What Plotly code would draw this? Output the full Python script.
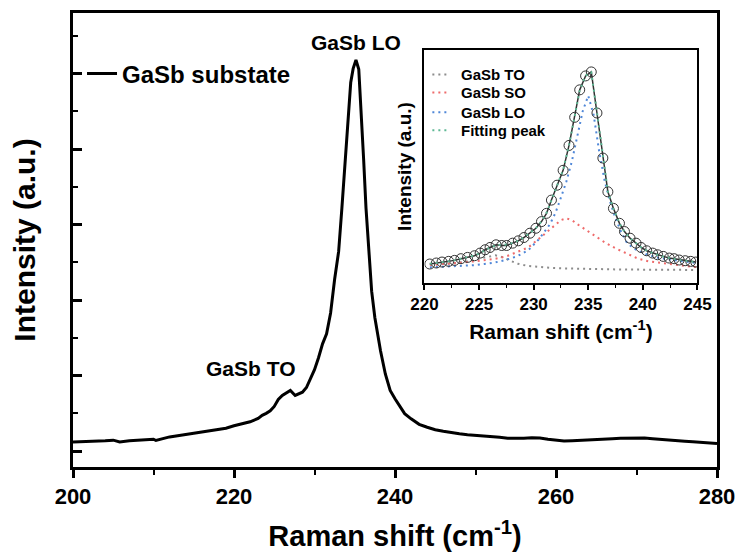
import plotly.graph_objects as go

# ---------------- main spectrum (GaSb substrate) ----------------
main_x = [200, 201, 202, 203, 204, 205, 205.8, 207, 208, 209, 210, 210.3, 211, 212, 213, 214, 215, 216, 217, 218,
          218.5, 219, 220, 221, 222, 223, 223.5, 224, 224.5, 225, 225.5, 226, 226.4, 227, 227.6, 228, 228.5, 229,
          229.5, 230, 230.5, 231, 231.5, 232, 232.5, 233, 233.4, 233.8, 234.2, 234.5, 234.8, 235.15, 235.5, 235.8,
          236.1, 236.4, 236.8, 237.1, 237.5, 238.2, 238.8, 239.4, 240, 240.5, 241.2, 242, 242.5, 243, 244, 245,
          246, 247, 248, 249, 250, 251, 252, 253, 254, 255, 256, 257, 258, 259, 260, 261, 262, 263, 264, 265, 266,
          267, 268, 269, 270, 271, 272, 273, 274, 275, 276, 277, 278, 279, 280]
main_y = [122, 125, 132, 128, 138, 145, 122, 138, 145, 151, 158, 141, 164, 188, 204, 217, 237, 254, 270, 283,
          286, 303, 336, 362, 388, 434, 474, 500, 533, 592, 684, 737, 763, 803, 737, 757, 780, 842,
          961, 1079, 1237, 1421, 1553, 1829, 2276, 2645, 3215, 3872, 4530, 4882, 5066, 5180, 5057, 4530,
          3872, 3215, 2579, 2118, 1767, 1329, 1022, 803, 693, 605, 496, 428, 386, 355, 316, 283,
          263, 243, 230, 217, 211, 200, 195, 184, 171, 167, 171, 178, 175, 158, 145, 134, 138, 142, 145, 151, 158,
          164, 171, 174, 175, 174, 164, 154, 147, 138, 132, 125, 118, 109, 101]

# ---------------- inset: measured points and fit ----------------
inset_x = [220.49, 221.09, 221.61, 222.22, 222.76, 223.34, 223.95, 224.59, 225.10, 225.56, 226.01, 226.56,
           227.08, 227.53, 228.08, 228.60, 229.11, 229.66, 230.21, 230.72, 231.18, 231.63, 232.15, 232.70,
           233.24, 233.76, 234.22, 234.76, 235.28, 235.80, 236.34, 236.80, 237.31, 237.86, 238.32, 238.83,
           239.38, 239.84, 240.35, 240.90, 241.35, 241.87, 242.42, 242.87, 243.33, 243.88, 244.39, 244.85]
inset_y = [350, 375, 399, 416, 440, 482, 514, 556, 621, 704, 761, 827,
           810, 810, 868, 926, 1008, 1115, 1238, 1403, 1608, 1937, 2307, 2677,
           3294, 3993, 4675, 5021, 5120, 4100, 2981, 2143, 1731, 1361, 1156, 991,
           868, 761, 679, 621, 580, 539, 498, 482, 449, 432, 416, 399]
fit_y = [355, 372, 393, 418, 445, 480, 520, 565, 620, 690, 760, 815,
         830, 835, 870, 930, 1010, 1115, 1240, 1410, 1620, 1930, 2310, 2690,
         3300, 3990, 4660, 5030, 5110, 4120, 2990, 2150, 1720, 1360, 1150, 995,
         865, 765, 685, 620, 575, 535, 500, 475, 450, 430, 412, 398]

to_x = [220.5, 221.5, 222.5, 223.5, 224.5, 225.5, 226.0, 226.5, 227.0, 227.5, 228.5, 229.5, 230.5, 231.5,
        232.5, 233.5, 234.5, 235.5, 236.5, 237.5, 238.5, 239.5, 240.5, 241.5, 242.5, 243.5, 244.5, 245]
to_y = [330, 345, 365, 395, 440, 510, 545, 565, 535, 470, 360, 300, 272, 255,
        243, 234, 228, 223, 219, 216, 213, 211, 209, 207, 205, 204, 203, 202]

so_x = [220.5, 221.5, 222.5, 223.5, 224.5, 225.5, 226.5, 227.5, 228.5, 229.5, 230.5, 231.5, 232.0, 232.5,
        233.0, 233.5, 234.0, 234.5, 235.5, 236.5, 237.5, 238.5, 239.5, 240.5, 241.5, 242.5, 243.5, 244.5, 245]
so_y = [326, 340, 360, 385, 415, 445, 480, 539, 640, 760, 980, 1200, 1330, 1440,
        1485, 1440, 1340, 1250, 1080, 890, 740, 610, 490, 420, 380, 345, 315, 285, 275]

lo_x = [220.5, 221.5, 222.5, 223.5, 224.5, 225.5, 226.5, 227.5, 228.5, 229.5, 230.5, 231.5, 232.0, 232.5,
        233.0, 233.5, 234.0, 234.5, 235.0, 235.5, 236.0, 236.5, 237.0, 237.5, 238.0, 238.5, 239.0, 239.5,
        240.5, 241.5, 242.5, 243.5, 244.5, 245]
lo_y = [268, 278, 287, 300, 320, 350, 390, 455, 545, 690, 970, 1340, 1620, 2000,
        2400, 2900, 3550, 4150, 4528, 4050, 3150, 2420, 1900, 1480, 1160, 900, 770, 690,
        570, 500, 460, 420, 385, 370]

main_xticks = [200, 220, 240, 260, 280]
inset_xticks = [220, 225, 230, 235, 240, 245]

inset_names = ["GaSb TO", "GaSb SO", "GaSb LO", "Fitting peak"]
inset_colors = ["#8c8c8c", "#ee6b6b", "#4f87d8", "#5fb895"]

FONT = "Liberation Sans, Arial, sans-serif"
DOTS = "2px,4px"

fig = go.Figure()

fig.add_trace(go.Scatter(x=main_x, y=main_y, mode="lines", name="<b>GaSb substate</b>",
                         line=dict(color="black", width=3)))

comp = [(to_x, to_y), (so_x, so_y), (lo_x, lo_y)]
for (cx, cy), nm, col in zip(comp, inset_names[:3], inset_colors[:3]):
    fig.add_trace(go.Scatter(x=cx, y=cy, mode="lines", name=nm, xaxis="x2", yaxis="y2",
                             line=dict(color=col, width=2, dash=DOTS), showlegend=False))
fig.add_trace(go.Scatter(x=inset_x, y=inset_y, mode="lines+markers", name="data", xaxis="x2", yaxis="y2",
                         line=dict(color="#333333", width=1.5),
                         marker=dict(symbol="circle-open", size=10, color="#333333", line=dict(width=1)),
                         showlegend=False))
fig.add_trace(go.Scatter(x=inset_x, y=fit_y, mode="lines", name=inset_names[3], xaxis="x2", yaxis="y2",
                         line=dict(color=inset_colors[3], width=2, dash=DOTS), showlegend=False))

# inset legend (drawn as sample dotted strokes + labels)
ann = []
shapes = []
leg_y = [0.8643, 0.8249, 0.7812, 0.7418]
for nm, col, yy in zip(inset_names, inset_colors, leg_y):
    shapes.append(dict(type="line", xref="paper", yref="paper", x0=0.558, x1=0.5843, y0=yy, y1=yy,
                       line=dict(color=col, width=2, dash=DOTS)))
    ann.append(dict(x=0.5997, y=yy, xref="paper", yref="paper", xanchor="left", yanchor="middle",
                    text=f"<b>{nm}</b>", showarrow=False, font=dict(size=15, family=FONT)))

ann += [
    dict(x=235.2, y=5410, xref="x", yref="y", text="<b>GaSb LO</b>", showarrow=False,
         font=dict(size=21, family=FONT)),
    dict(x=222.1, y=1092, xref="x", yref="y", text="<b>GaSb TO</b>", showarrow=False,
         font=dict(size=21, family=FONT)),
]

fig.update_layout(
    width=745, height=559,
    margin=dict(l=73, r=23, t=10, b=92),
    paper_bgcolor="white", plot_bgcolor="white",
    font=dict(family=FONT, color="black"),
    showlegend=True,
    xaxis=dict(range=[200, 280], tickvals=main_xticks, ticktext=[f"<b>{v}</b>" for v in main_xticks],
               ticks="outside", ticklen=8, tickwidth=2.5, tickcolor="black",
               minor=dict(dtick=10, tick0=200, ticks="outside", ticklen=5, tickwidth=2, tickcolor="black"),
               showline=True, linewidth=3, linecolor="black", mirror=True, showgrid=False, zeroline=False,
               tickfont=dict(size=22, family=FONT),
               title=dict(text="<b>Raman shift (cm<sup>-1</sup>)</b>", font=dict(size=29, family=FONT), standoff=18)),
    yaxis=dict(range=[-210.5, 5803], tick0=0, dtick=1000, showticklabels=False,
               ticks="inside", ticklen=9, tickwidth=2.5, tickcolor="black",
               minor=dict(dtick=500, tick0=0, ticks="inside", ticklen=5, tickwidth=2, tickcolor="black"),
               showline=True, linewidth=3, linecolor="black", mirror=True, showgrid=False, zeroline=False,
               title=dict(text="<b>Intensity (a.u.)</b>", font=dict(size=30, family=FONT), standoff=26)),
    xaxis2=dict(domain=[0.5457, 0.9696], anchor="y2", range=[220, 245], tickvals=inset_xticks,
                ticktext=[f"<b>{v}</b>" for v in inset_xticks],
                ticks="outside", ticklen=5, tickwidth=1.5, tickcolor="black",
                minor=dict(dtick=2.5, tick0=220, ticks="outside", ticklen=3, tickwidth=1.2, tickcolor="black"),
                showline=True, linewidth=1.5, linecolor="black", mirror=True, showgrid=False, zeroline=False,
                tickfont=dict(size=17, family=FONT),
                title=dict(text="<b>Raman shift (cm<sup>-1</sup>)</b>", font=dict(size=21, family=FONT), standoff=11)),
    yaxis2=dict(domain=[0.4048, 0.919], anchor="x2", range=[-127, 5670], showticklabels=False, ticks="",
                showline=True, linewidth=1.5, linecolor="black", mirror=True, showgrid=False, zeroline=False,
                title=dict(text="<b>Intensity (a.u.)</b>", font=dict(size=19, family=FONT), standoff=6)),
    legend=dict(x=0.014, y=0.866, xanchor="left", yanchor="middle", bgcolor="rgba(0,0,0,0)",
                font=dict(size=24, family=FONT)),
    annotations=ann,
    shapes=shapes,
)

fig.write_html("out.html")
